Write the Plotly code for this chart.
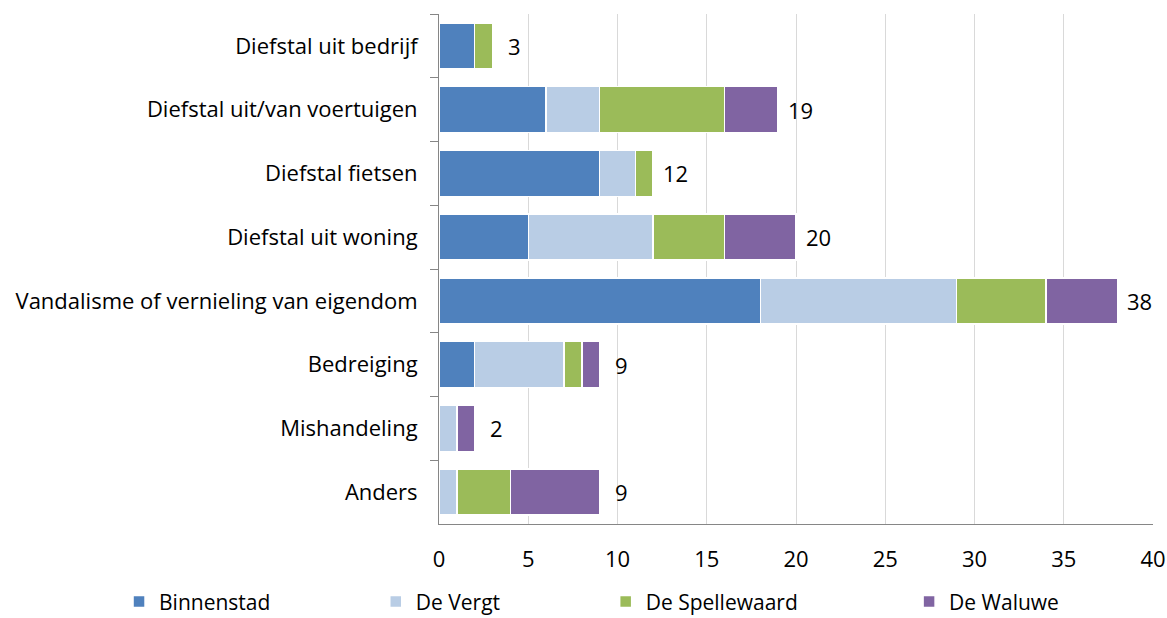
import plotly.graph_objects as go

categories = ["Diefstal uit bedrijf", "Diefstal uit/van voertuigen", "Diefstal fietsen",
              "Diefstal uit woning", "Vandalisme of vernieling van eigendom",
              "Bedreiging", "Mishandeling", "Anders"]
binnenstad = [2, 6, 9, 5, 18, 2, 0, 0]
de_vergt = [0, 3, 2, 7, 11, 5, 1, 1]
de_spellewaard = [1, 7, 1, 4, 5, 1, 0, 3]
de_waluwe = [0, 3, 0, 4, 4, 1, 1, 5]
totals = [3, 19, 12, 20, 38, 9, 2, 9]
x_ticks = [0, 5, 10, 15, 20, 25, 30, 35, 40]

series = [("Binnenstad", binnenstad, "#4F81BD"),
          ("De Vergt", de_vergt, "#B9CDE5"),
          ("De Spellewaard", de_spellewaard, "#9BBB59"),
          ("De Waluwe", de_waluwe, "#8064A2")]
legend_ids = ["legend", "legend2", "legend3", "legend4"]
legend_x = [0.102, 0.322, 0.519, 0.779]

FONT = "Open Sans"
SIZE = 22
fig = go.Figure()
for (name, vals, col), lid in zip(series, legend_ids):
    fig.add_trace(go.Bar(
        y=categories, x=vals, name=name, orientation="h",
        marker=dict(color=col, line=dict(color="white", width=1.5)),
        width=0.72, legend=lid,
    ))

for cat, tot in zip(categories, totals):
    fig.add_annotation(x=tot, y=cat, text=str(tot), showarrow=False,
                       xanchor="center", xshift=22,
                       font=dict(family=FONT, size=SIZE, color="black"))

legend_common = dict(orientation="h", xref="container", yref="container",
                     y=0.026, yanchor="middle", xanchor="left",
                     font=dict(family=FONT, size=21, color="black"),
                     bgcolor="rgba(0,0,0,0)", itemwidth=30)
layout_legends = {}
for lid, lx in zip(legend_ids, legend_x):
    layout_legends[lid] = dict(legend_common, x=lx)

fig.update_layout(
    barmode="stack",
    width=1167, height=618,
    margin=dict(l=439, r=14, t=14, b=94, autoexpand=False),
    plot_bgcolor="white", paper_bgcolor="white",
    font=dict(family=FONT, size=SIZE, color="black"),
    showlegend=True,
    **layout_legends,
)
fig.update_xaxes(range=[0, 40], tickvals=x_ticks, showgrid=True, gridcolor="#D9D9D9",
                 gridwidth=1, showline=True, linecolor="#868686", zeroline=False,
                 ticks="", tickfont=dict(family=FONT, size=SIZE), ticklabelstandoff=16)
fig.update_yaxes(autorange="reversed", showline=True, linecolor="#868686",
                 ticks="outside", tickson="boundaries", ticklen=8, tickcolor="#868686",
                 showgrid=False, tickfont=dict(family=FONT, size=SIZE), ticklabelstandoff=16)

fig.write_html("out.html", config={"displayModeBar": False},
               post_script="document.body.style.margin='0';document.body.style.overflow='hidden';")
